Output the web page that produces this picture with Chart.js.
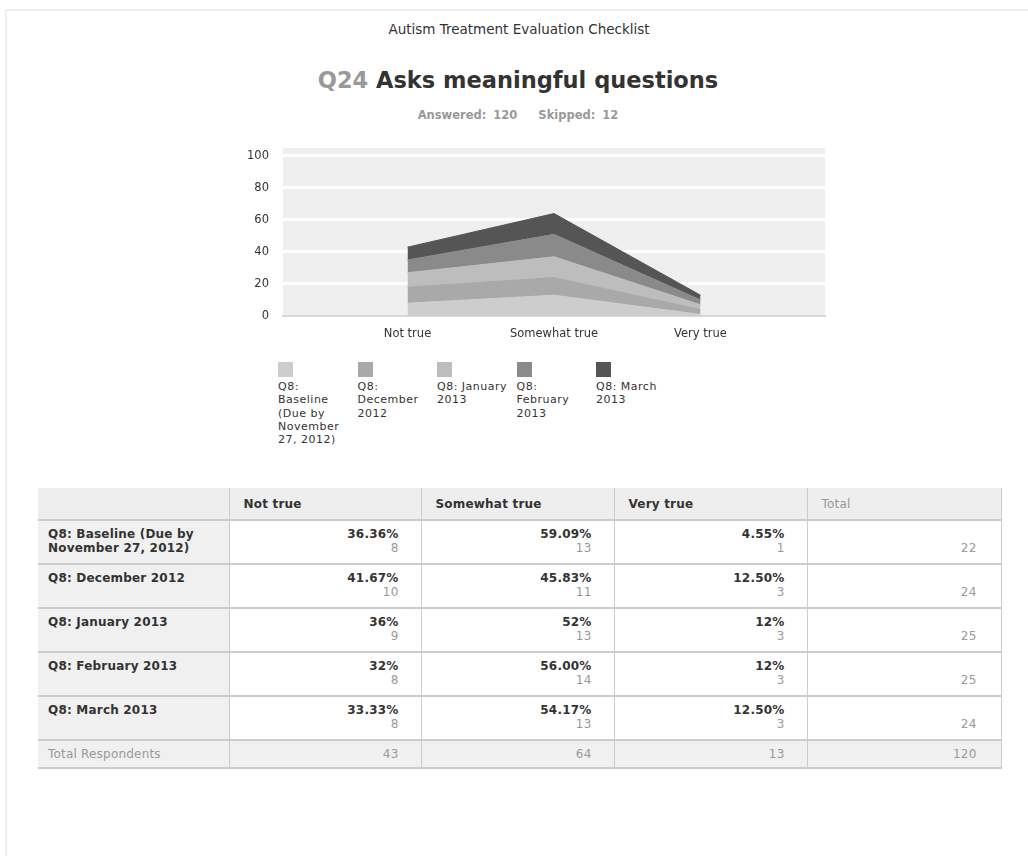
<!DOCTYPE html>
<html>
<head>
<meta charset="utf-8">
<script src="https://cdn.jsdelivr.net/npm/chart.js@4"></script>
<style>
    body { margin: 0; background: #fff; font-family: "DejaVu Sans", sans-serif; color: #333; }
    #page { position: absolute; left: 5px; top: 9px; width: 1100px; height: 900px; border-top: 2px solid #eee; border-left: 2px solid #eee; }
    .survey { position: absolute; left: 0; width: 1038px; top: 21px; text-align: center; font-size: 13.5px; color: #333; }
    .qtitle { position: absolute; left: 0; width: 1036px; top: 67px; text-align: center; font-size: 22.5px; font-weight: bold; color: #333; }
    .qtitle span { color: #999; font-weight: bold; }
    .stats { position: absolute; left: 0; width: 1036px; top: 108px; text-align: center; font-size: 11.5px; font-weight: bold; color: #999; word-spacing: 3px; }
    #chart-wrap { position: absolute; left: 230px; top: 127px; width: 610px; height: 213px; }
    #legend { position: absolute; left: 278px; top: 362px; }
    .leg-item { position: absolute; top: 0; width: 72px; font-size: 11px; letter-spacing: 0.5px; line-height: 13.3px; color: #333; }
    .leg-box { width: 15px; height: 15px; margin-bottom: 3px; }
    table { position: absolute; left: 38px; top: 488px; width: 963px; border-collapse: collapse; table-layout: fixed; font-size: 12px; letter-spacing: 0.2px; }
    td, th { border-right: 1px solid #ccc; border-bottom: 2px solid #ccc; vertical-align: top; }
    th { background: #eee; height: 31px; text-align: left; padding: 0 0 0 14px; font-weight: bold; vertical-align: middle; }
    th.total { font-weight: normal; color: #999; }
    td.lbl { background: #f0f0f0; font-weight: bold; padding: 6px 8px 6px 10px; line-height: 14px; height: 30px; }
    td.val { text-align: right; padding: 6px 22px 0 0; line-height: 14px; }
    td.val b { color: #333; }
    td.val .n { color: #999; }
    td.tot { text-align: right; padding: 20px 24px 0 0; color: #999; }
    tr.foot td { background: #f0f0f0; color: #999; font-weight: normal; height: 26px; vertical-align: middle; padding-top: 0; padding-bottom: 0; }
    tr.foot td.lbl { font-weight: normal; }
</style>
</head>
<body>
<div id="page"></div>
<div class="survey">Autism Treatment Evaluation Checklist</div>
<div class="qtitle"><span>Q24</span> Asks meaningful questions</div>
<div class="stats">Answered: 120 &nbsp; Skipped: 12</div>
<div id="chart-wrap"><canvas id="chart"></canvas></div>
<div id="legend"></div>
<table id="tbl"></table>

<script>
    /* ===== Data ===== */
    var answerLabels = ["Not true", "Somewhat true", "Very true"];
    var seriesNames = [
        "Q8: Baseline (Due by November 27, 2012)",
        "Q8: December 2012",
        "Q8: January 2013",
        "Q8: February 2013",
        "Q8: March 2013"
    ];
    var baselineCounts = [8, 13, 1];
    var decemberCounts = [10, 11, 3];
    var januaryCounts = [9, 13, 3];
    var februaryCounts = [8, 14, 3];
    var marchCounts = [8, 13, 3];
    var baselinePct = ["36.36%", "59.09%", "4.55%"];
    var decemberPct = ["41.67%", "45.83%", "12.50%"];
    var januaryPct = ["36%", "52%", "12%"];
    var februaryPct = ["32%", "56.00%", "12%"];
    var marchPct = ["33.33%", "54.17%", "12.50%"];
    var rowTotals = [22, 24, 25, 25, 24];
    var columnTotals = [43, 64, 13, 120];
    var yTicks = [0, 20, 40, 60, 80, 100];

    var seriesColors = ["#cdcdcd", "#a9a9a9", "#bdbdbd", "#8a8a8a", "#555555"];
    var allCounts = [baselineCounts, decemberCounts, januaryCounts, februaryCounts, marchCounts];
    var allPct = [baselinePct, decemberPct, januaryPct, februaryPct, marchPct];

    /* --- build datasets --- */
    function toPoints(arr) {
        return arr.map(function (v, i) { return { x: i, y: v }; });
    }

    var datasets = [];
    for (var i = 0; i < seriesNames.length; i++) {
        datasets.push({
            label: seriesNames[i],
            data: toPoints(allCounts[i]),
            backgroundColor: seriesColors[i],
            borderColor: seriesColors[i],
            borderWidth: 1,
            pointRadius: 0,
            tension: 0,
            fill: i === 0 ? "origin" : "-1"
        });
    }

    /* --- plot background --- */
    var bgPlugin = {
        id: "plotBg",
        beforeDraw: function (chart) {
            var a = chart.chartArea;
            var ctx = chart.ctx;
            ctx.save();
            ctx.fillStyle = "#efefef";
            ctx.fillRect(a.left, a.top, a.right - a.left, a.bottom - a.top);
            ctx.restore();
        }
    };

    var chart = new Chart(document.getElementById("chart"), {
        type: "line",
        data: { datasets: datasets },
        plugins: [bgPlugin],
        options: {
            responsive: true,
            maintainAspectRatio: false,
            animation: false,
            layout: { padding: { top: 0, right: 15, left: 0, bottom: 0 } },
            plugins: { legend: { display: false }, tooltip: { enabled: false } },
            scales: {
                x: {
                    type: "linear",
                    min: -0.85,
                    max: 2.85,
                    afterBuildTicks: function (scale) {
                        scale.ticks = answerLabels.map(function (l, i) { return { value: i }; });
                    },
                    afterFit: function (scale) { scale.height = 24; },
                    ticks: {
                        callback: function (v) { return answerLabels[v]; },
                        color: "#333",
                        font: { family: "DejaVu Sans", size: 11.5 },
                        padding: 3,
                        maxRotation: 0
                    },
                    grid: { display: false },
                    border: { color: "#d8d8d8", width: 2 }
                },
                y: {
                    stacked: true,
                    min: 0,
                    max: 105,
                    afterBuildTicks: function (scale) {
                        scale.ticks = yTicks.map(function (v) { return { value: v }; });
                    },
                    afterFit: function (scale) { scale.width = 53; },
                    ticks: {
                        color: "#333",
                        font: { family: "DejaVu Sans", size: 11.5 },
                        padding: 14
                    },
                    grid: { color: "#ffffff", lineWidth: 3, drawTicks: false },
                    border: { display: false }
                }
            }
        }
    });

    /* --- HTML legend (wrapped text under swatch) --- */
    var legend = document.getElementById("legend");
    chart.data.datasets.forEach(function (ds, i) {
        var item = document.createElement("div");
        item.className = "leg-item";
        item.style.left = (i * 79.5) + "px";
        item.innerHTML = '<div class="leg-box" style="background:' + ds.backgroundColor + '"></div>' + ds.label;
        legend.appendChild(item);
    });

    /* --- table --- */
    var html = '<colgroup><col style="width:191px"><col style="width:192px"><col style="width:193px"><col style="width:193px"><col style="width:194px"></colgroup>';
    html += "<tr><th></th>";
    answerLabels.forEach(function (l) { html += "<th>" + l + "</th>"; });
    html += '<th class="total">Total</th></tr>';
    for (var r = 0; r < seriesNames.length; r++) {
        html += '<tr><td class="lbl">' + seriesNames[r] + "</td>";
        for (var c = 0; c < answerLabels.length; c++) {
            html += '<td class="val"><b>' + allPct[r][c] + '</b><br><span class="n">' + allCounts[r][c] + "</span></td>";
        }
        html += '<td class="tot">' + rowTotals[r] + "</td></tr>";
    }
    html += '<tr class="foot"><td class="lbl">Total Respondents</td>';
    columnTotals.forEach(function (t, i) {
        html += '<td class="' + (i < 3 ? "val" : "tot") + '">' + t + "</td>";
    });
    html += "</tr>";
    document.getElementById("tbl").innerHTML = html;
</script>
</body>
</html>
